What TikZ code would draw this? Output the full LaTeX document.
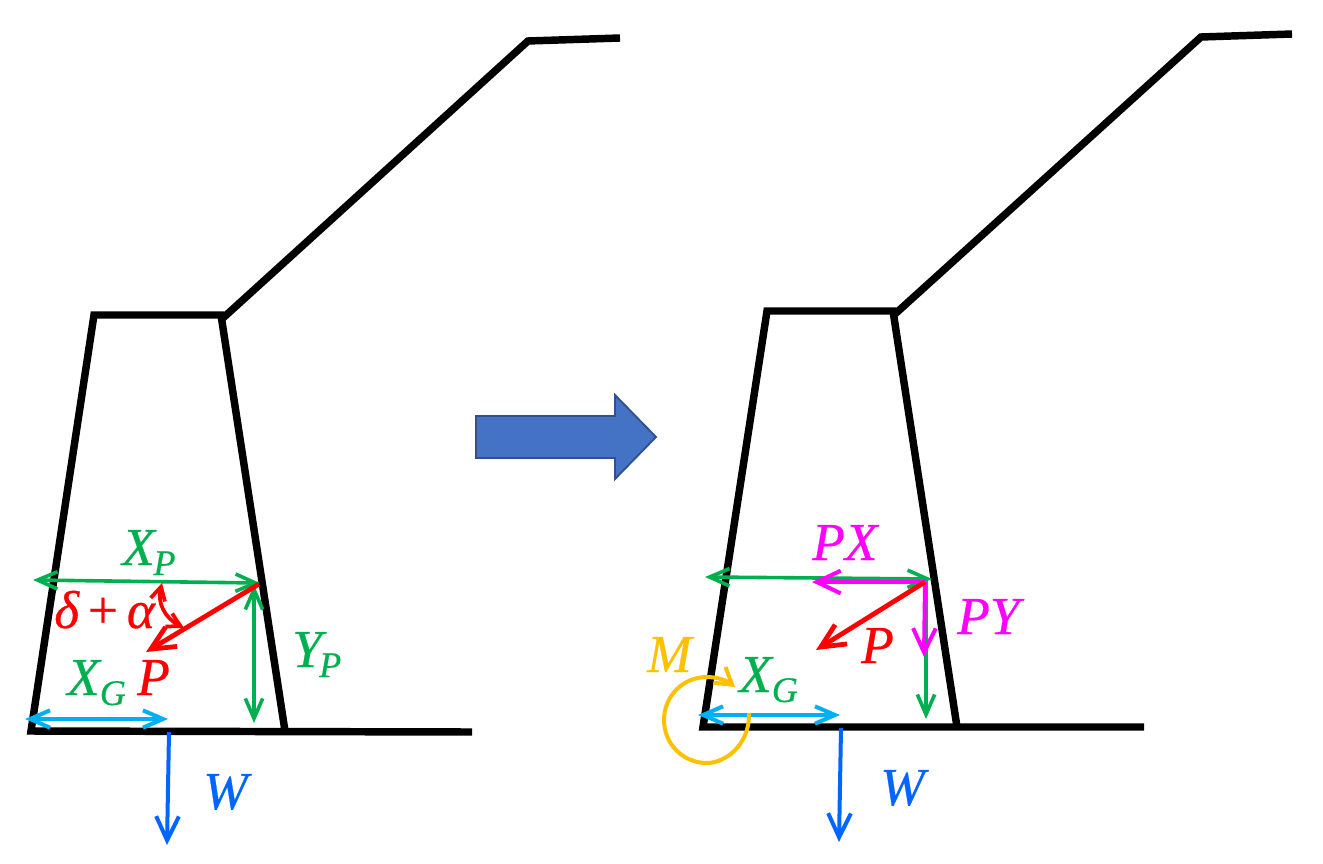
\documentclass[tikz,border=0pt]{standalone}
\usepackage{fontspec}
\setmainfont{Liberation Serif}
\newfontfamily\lbfont{Liberation Serif}[FakeBold=0.5]
\usetikzlibrary{arrows.meta}
\definecolor{cgreen}{HTML}{00B050}
\definecolor{cred}{HTML}{FF0000}
\definecolor{ccyan}{HTML}{00B0F0}
\definecolor{cblue}{HTML}{0066FF}
\definecolor{cmag}{HTML}{FF00FF}
\definecolor{camber}{HTML}{FFC000}
\definecolor{bfill}{HTML}{4472C4}
\definecolor{bedge}{HTML}{2F528F}
\newcommand{\lowsub}[2][0pt]{\kern#1\raisebox{-7.5pt}{\fontsize{27}{30}\selectfont #2}}
\tikzset{
  wall/.style={line width=5.6pt,black,miter limit=20},
  gbarb/.style={-{Straight Barb[length=15pt,width=13pt]}},
  gdbarb/.style={{Straight Barb[length=15pt,width=13pt]}-{Straight Barb[length=15pt,width=13pt]}},
  bigbarb/.style={-{Straight Barb[length=18pt,width=17pt]}},
  smalldbl/.style={{Straight Barb[length=10pt,width=11pt]}-{Straight Barb[length=10pt,width=11pt]}},
  greenline/.style={cgreen,line width=2.7pt},
  cyanline/.style={ccyan,line width=3pt},
  redline/.style={cred,line width=3.6pt},
  magline/.style={cmag,line width=3pt},
  blueline/.style={cblue,line width=3pt},
  amberline/.style={camber,line width=3pt},
  lab/.style={inner sep=0pt,anchor=base west,font=\fontsize{40}{44}\selectfont\lbfont\itshape},
}
\begin{document}
\begin{tikzpicture}[x=0.75pt,y=-0.75pt]
\useasboundingbox (0,0) rectangle (1323,863);
% left dam
\draw[wall] (285,731)--(221,315)--(94,315)--(31,731)--(472,732);
\draw[wall] (223,318)--(528,41)--(620,38);
% right dam
\draw[wall] (957,727)--(893,311)--(767,311)--(703,727)--(1144,727);
\draw[wall] (895,314)--(1201,37)--(1292,34);
% block arrow
\draw[fill=bfill,draw=bedge,line width=1.4pt,line join=miter]
  (476,416)--(615,416)--(615,395)--(656,437)--(615,479)--(615,458)--(476,458)--cycle;
% left annotations
\coordinate (xpl) at (33,580); \coordinate (xpr) at (260,583);
\coordinate (ypt) at (254,585); \coordinate (ypb) at (254,723);
\coordinate (xgl) at (25,719); \coordinate (xgr) at (168,719);
\coordinate (ps) at (259,584); \coordinate (pe) at (146,652);
\coordinate (ws) at (169,732); \coordinate (we) at (167,845);
\coordinate (as) at (162,583); \coordinate (ae) at (184,628);
\draw[greenline,gdbarb] (xpl)--(xpr);
\draw[greenline,gdbarb] (ypt)--(ypb);
\draw[cyanline,gdbarb] (xgl)--(xgr);
\draw[redline,bigbarb] (ps)--(pe);
\draw[cred,line width=2.8pt,smalldbl] (as) .. controls (157,603) and (165,618) .. (ae);
\draw[blueline,bigbarb] (ws)--(we);
\node[lab,text=cgreen] (txp) at (122,565) {X\lowsub[-1pt]{P}};
\node[lab,text=cgreen] (txg) at (67,695) {X\lowsub{G}};
\node[lab,text=cred] (tp) at (137,695) {P};
\node[lab,text=cred] (tda) at (54,628) {δ\,\upshape{+}\,\itshape α};
\node[lab,text=cgreen] (typ) at (292,667) {Y\lowsub[-2pt]{P}};
\node[lab,text=cblue] (tw) at (203,809) {W};
% right annotations
\coordinate (rxpl) at (705,577); \coordinate (rxpr) at (932,579);
\coordinate (rypt) at (926,581); \coordinate (rypb) at (926,719);
\coordinate (rxgl) at (698,715); \coordinate (rxgr) at (840,715);
\coordinate (rps) at (925,582); \coordinate (rpe) at (816,650);
\coordinate (rpx) at (812,582); \coordinate (rpy) at (924,657);
\coordinate (rws) at (841,728); \coordinate (rwe) at (839,842);
\coordinate (ms) at (749,713); \coordinate (me) at (735,687);
\draw[greenline,gdbarb] (rxpl)--(rxpr);
\draw[greenline,gbarb] (rypt)--(rypb);
\draw[magline,bigbarb] (rps)--(rpx);
\draw[magline,bigbarb] (rps)--(rpy);
\draw[redline,bigbarb] (rps)--(rpe);
\draw[cyanline,gdbarb] (rxgl)--(rxgr);
\draw[blueline,bigbarb] (rws)--(rwe);
\draw[amberline,-{Straight Barb[length=12pt,width=15pt]}]
  (ms) .. controls (750,745) and (725,763) .. (707,763)
  .. controls (683,763) and (664,744) .. (664,720)
  .. controls (664,696) and (683,677) .. (707,677)
  .. controls (716,677) and (726,680) .. (me);
\node[lab,text=cmag] (tpx) at (812,560) {PX};
\node[lab,text=cmag] (tpy) at (957,634) {PY};
\node[lab,text=cred] (trp) at (861,663) {P};
\node[lab,text=camber] (tm) at (647,672) {M};
\node[lab,text=cgreen] (trxg) at (739,692) {X\lowsub{G}};
\node[lab,text=cblue] (trw) at (880,805) {W};
\end{tikzpicture}
\end{document}
